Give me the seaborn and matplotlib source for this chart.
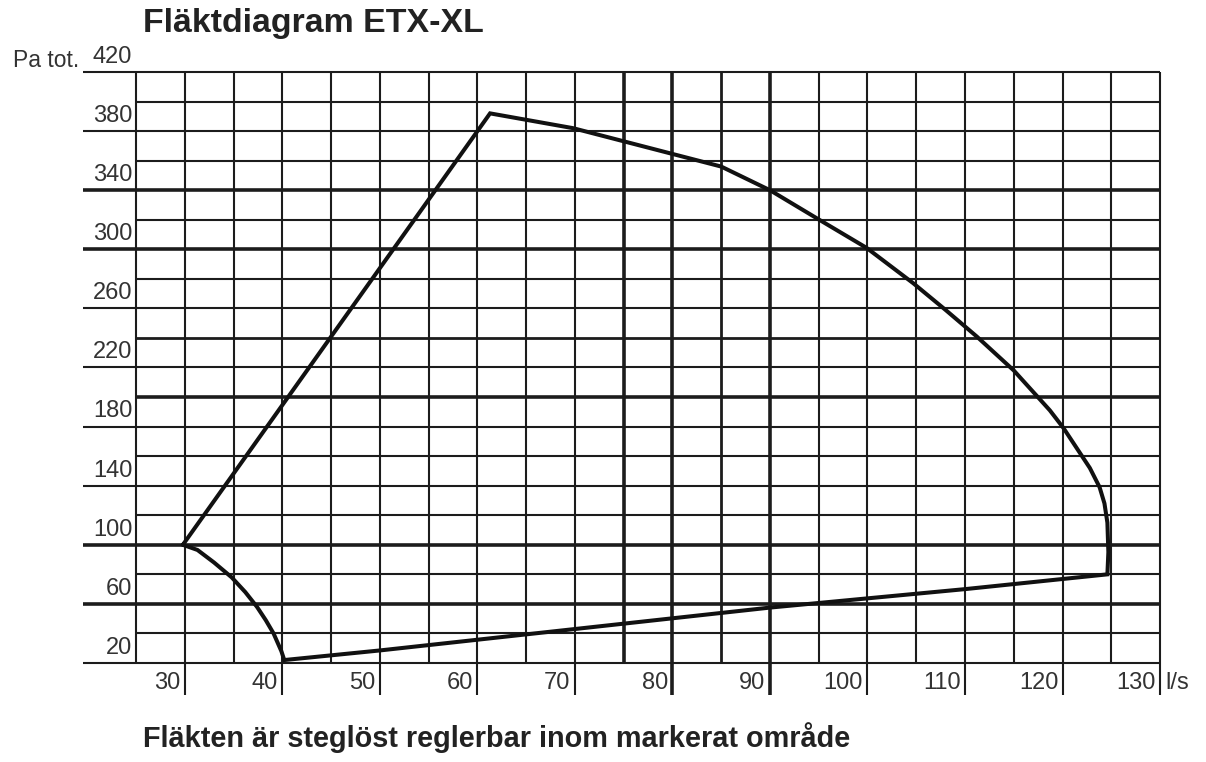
import matplotlib
matplotlib.use("Agg")
import matplotlib.pyplot as plt
import seaborn as sns
import pandas as pd

# Fan working area (l/s, Pa tot.), traced clockwise from the left corner
flow = [29.8, 61.3, 69.8, 85.0, 90.0, 94.8, 99.9, 104.7, 108.0, 111.2, 115.0,
        118.7, 120.1, 121.5, 122.8, 123.8, 124.3, 124.6, 124.7, 124.6,
        110.0, 90.0, 70.0, 50.0,
        40.2, 39.9, 39.1, 38.3, 37.4, 36.2, 34.8, 33.0, 31.3, 29.8]
pressure = [100, 392, 382, 356, 340, 321, 301, 277, 259, 241, 218,
            191, 179, 165, 152, 139, 128, 115, 95, 80,
            70, 57.5, 43, 28.5,
            22, 28, 40, 49, 58, 68, 78, 88, 96.5, 100]

x_grid = list(range(25, 131, 5))
x_labels = list(range(30, 131, 10))
y_grid = list(range(20, 421, 20))
y_labels = list(range(20, 421, 40))
thick_y = [60, 100, 200, 300, 340]
thick_x = [75, 80, 90]

title = "Fläktdiagram ETX-XL"
footer = "Fläkten är steglöst reglerbar inom markerat område"
unit_y = "Pa tot."
unit_x = "l/s"

sns.set_theme(style="white")
plt.rcParams['font.family'] = ['Liberation Sans', 'DejaVu Sans']

W, H = 1206, 762
fig = plt.figure(figsize=(W / 100, H / 100), dpi=100)
ax = fig.add_axes([83 / W, 1 - 663 / H, (1162 - 83) / W, (663 - 72) / H])
ax.set_xlim(19.56, 130.2)
ax.set_ylim(20, 420)
ax.axis('off')

grid_col = '#1c1c1c'
left_x = 19.56

# horizontal grid: labelled lines reach out under the labels
for y in y_grid:
    lw = 2.6 if y in thick_y else (2.0 if y == 240 else 1.5)
    xmin = left_x if y in y_labels else 25
    ax.hlines(y, xmin, 130, color=grid_col, lw=lw, clip_on=False, zorder=1)

# vertical grid: major lines stick out below as ticks
for x in x_grid:
    lw = 2.6 if x in thick_x else (2.0 if x == 85 else 1.5)
    ymin = -1.7 if x in x_labels else 20
    ax.vlines(x, ymin, 420, color=grid_col, lw=lw, clip_on=False, zorder=1)

df = pd.DataFrame({'flow': flow, 'pressure': pressure})
sns.lineplot(data=df, x='flow', y='pressure', sort=False, estimator=None,
             color='#111111', linewidth=2.9, ax=ax, zorder=3, clip_on=False)
for ln in ax.lines:
    ln.set_solid_joinstyle('miter')

lab_col = '#333333'
for y in y_labels:
    ax.annotate(str(y), (24.6, y), xytext=(0, 3), textcoords='offset points',
                ha='right', va='bottom', fontsize=17, color=lab_col)
for x in x_labels:
    ax.text(x - 0.45, 6.5, str(x), ha='right', va='center', fontsize=17, color=lab_col)
ax.text(130.5, 6.5, unit_x, ha='left', va='center', fontsize=17, color=lab_col)

fig.text(13 / W, 1 - 67 / H, unit_y, ha='left', va='baseline', fontsize=16.5, color=lab_col)
fig.text(143 / W, 1 - 32 / H, title, ha='left', va='baseline', fontsize=24.4,
         fontweight='bold', color='#222222')
fig.text(143 / W, 1 - 747 / H, footer, ha='left', va='baseline', fontsize=20.8,
         fontweight='bold', color='#222222')

fig.savefig('out.png', dpi=100)
